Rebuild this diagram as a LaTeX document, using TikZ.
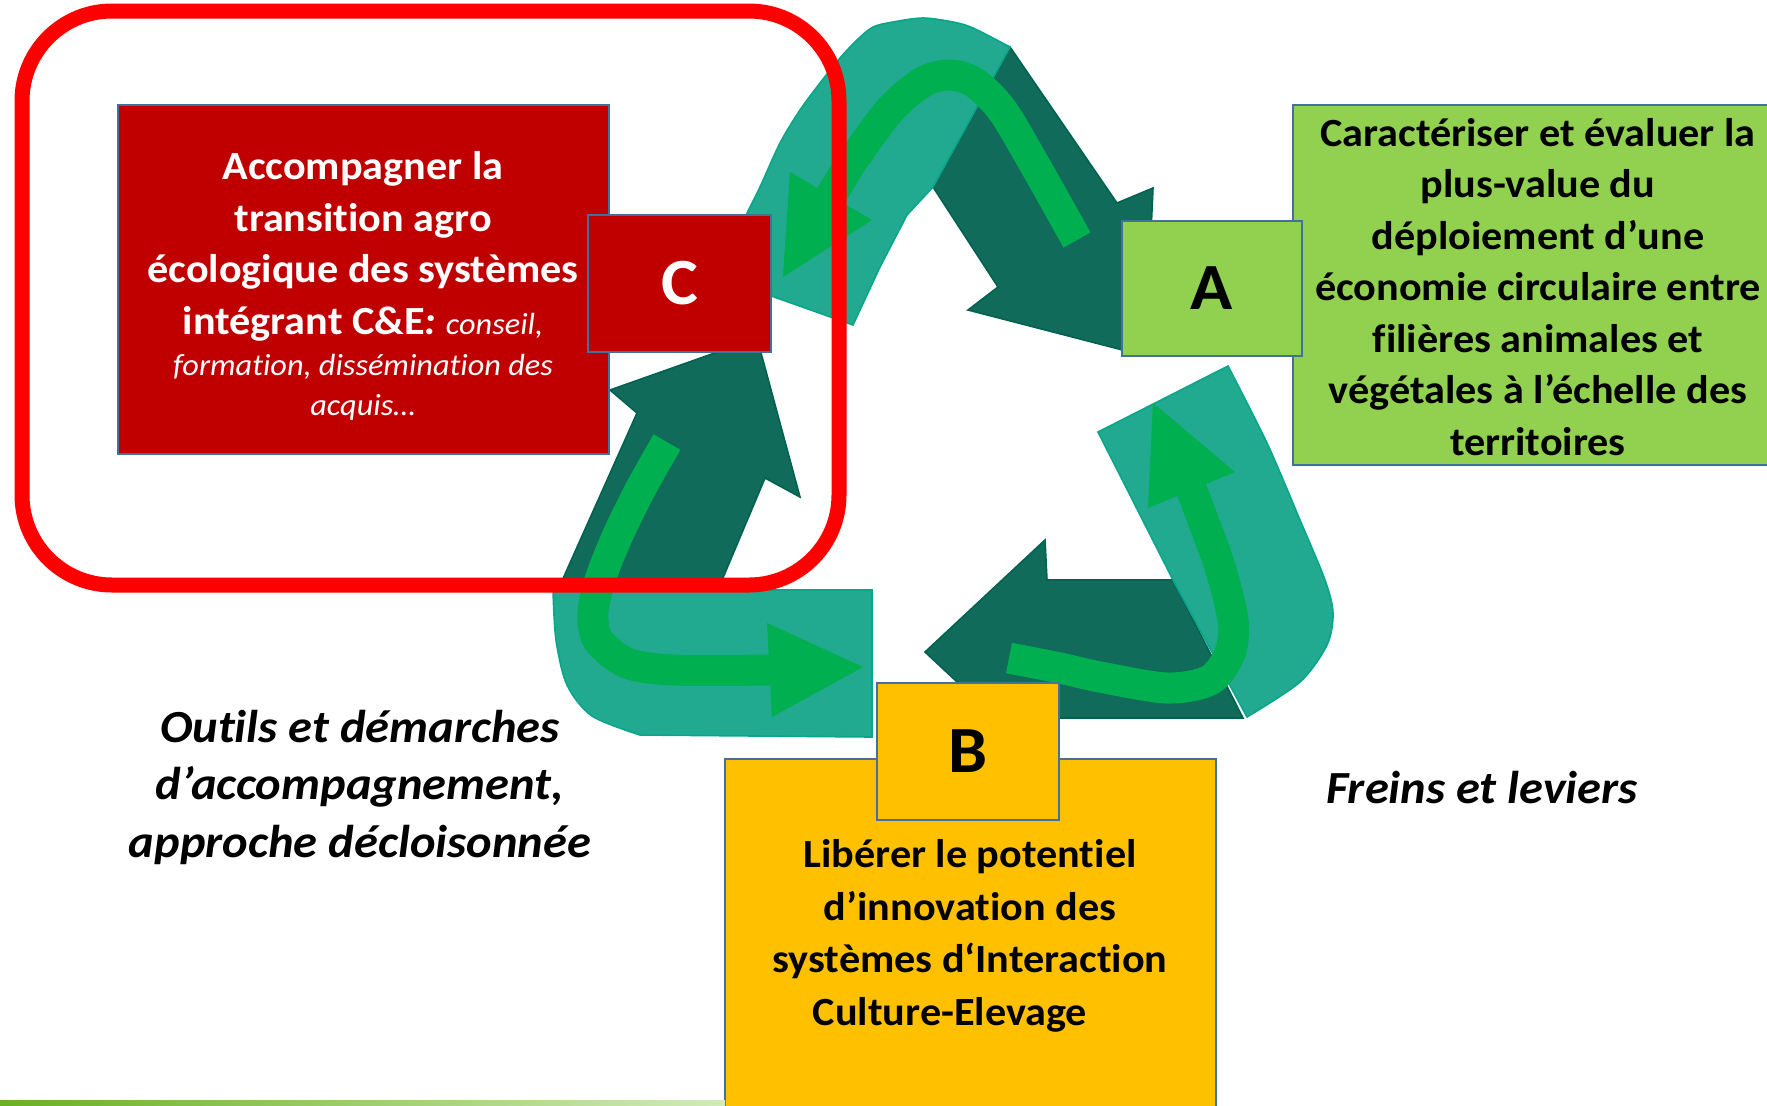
\documentclass[tikz,border=0pt]{standalone}
\usepackage{fontspec}
\setmainfont{Carlito}[FakeStretch=1.055, Ligatures=NoCommon]
\definecolor{tealLight}{HTML}{21AA8F}
\definecolor{tealLightEdge}{HTML}{08A68A}
\definecolor{tealDark}{HTML}{106B5A}
\definecolor{tealDarkEdge}{HTML}{00624F}
\definecolor{flowGreen}{HTML}{00AF50}
\definecolor{frameRed}{HTML}{FF0000}
\definecolor{boxRed}{HTML}{C00000}
\definecolor{boxGreen}{HTML}{92D050}
\definecolor{boxYellow}{HTML}{FFC000}
\definecolor{boxEdge}{HTML}{41719C}
\definecolor{ruleGreen}{HTML}{6AB023}
\definecolor{ruleLight}{HTML}{D2EBB8}
\newcommand{\remark}[1]{{\mdseries\itshape\fontsize{15.3pt}{25.75pt}\selectfont #1}}
\begin{document}
\begin{tikzpicture}[x=0.5pt, y=-0.5pt,
    lightband/.style={fill=tealLight, draw=tealLightEdge, line width=0.8pt},
    darkband/.style={fill=tealDark, draw=tealDarkEdge, line width=0.8pt},
    flow/.style={draw=flowGreen, line width=15.5pt},
    tile/.style={draw=boxEdge, line width=1.2pt},
    letterbox/.style={tile, inner sep=0pt, font=\fontsize{33pt}{36pt}\selectfont\bfseries},
    bodytext/.style={align=center, inner sep=0pt, font=\fontsize{20pt}{25.75pt}\selectfont\bfseries},
    sidetext/.style={align=center, inner sep=0pt, font=\fontsize{23pt}{28.75pt}\selectfont\bfseries\itshape}]
    \useasboundingbox (0,0) rectangle (1767,1105);
    % recycling loop, dark halves
    \filldraw[darkband] (1010,47) -- (1117,203) -- (1153,188) -- (1148,300) -- (1138,354) -- (968,310) -- (998,287) -- (933,187) -- cycle;
    \filldraw[darkband] (557,592) -- (637,413) -- (610,390) -- (757,338) -- (800,497) -- (765,478) -- (717,592) -- cycle;
    \filldraw[darkband] (1173,580) -- (1047,580) -- (1045,540) -- (925,652) -- (1000,722) -- (1045,758) -- (1050,718) -- (1243,718) -- cycle;
    % light halves
    \filldraw[lightband] (740,235) -- plot[smooth] coordinates {(747,213) (760,187) (780,143) (800,110) (820,83) (840,58) (857,40) (873,27) (893,22) (923,18) (953,22) (973,28) (1010,47)} -- (933,187) -- (907,215) -- (880,267) -- (853,325) -- (760,292) -- cycle;
    \filldraw[lightband] (553,590) -- (872,590) -- (872,737) -- plot[smooth] coordinates {(640,735) (592,716) (567,685) (556,640) (553,590)} -- cycle;
    \filldraw[lightband] (1098,432) -- plot[smooth] coordinates {(1228,366) (1267,443) (1300,520) (1325,580) (1333,613) (1327,645) (1300,682) (1247,717)} -- (1173,580) -- cycle;
    % green flow arrows
    \draw[flow] plot[smooth] coordinates {(1077,240) (1032,160) (1002,110) (975,83) (950,75) (923,82) (890,110) (853,160) (831,196)};
    \fill[flowGreen] (790,172) -- (872,220) -- (783,277) -- cycle;
    \draw[flow] plot[smooth] coordinates {(667,442) (640,490) (617,537) (600,580) (593,613) (598,640) (627,663) (673,670) (770,670)};
    \fill[flowGreen] (767,623) -- (863,667) -- (772,717) -- cycle;
    \draw[flow] plot[smooth] coordinates {(1009,658) (1060,668) (1100,677) (1167,688) (1210,680) (1230,653) (1233,620) (1220,567) (1203,520) (1186,475)};
    \fill[flowGreen] (1148,508) -- (1235,472) -- (1153,403) -- cycle;
    % red frame
    \draw[frameRed, line width=7.5pt, rounded corners=45pt] (22,11) rectangle (839,585);
    % boxes
    \filldraw[tile, fill=boxRed] (118,105) rectangle (609,454);
    \node[letterbox, fill=boxRed, text=white, minimum width=91.5pt, minimum height=68.5pt] (cbox) at (679.5,283.5) {C};
    \filldraw[tile, fill=boxGreen] (1293,105) rectangle (1780,465);
    \node[letterbox, fill=boxGreen, minimum width=90pt, minimum height=67.5pt] (abox) at (1212,288.5) {A};
    \filldraw[tile, fill=boxYellow] (725,759) rectangle (1216,1120);
    \node[letterbox, fill=boxYellow, minimum width=91pt, minimum height=68.5pt] (bbox) at (968,751.5) {B};
    % texts
    \node[bodytext, text=white] (ctext) at (363,286) {Accompagner la\\transition agro\\écologique des systèmes\\intégrant C\&E\textit{:} \remark{conseil,}\\[-5pt]\remark{formation, dissémination des}\\[-6pt]\remark{acquis…}};
    \node[bodytext] (atext) at (1538,287) {Caractériser et évaluer la\\plus-value du\\déploiement d’une\\économie circulaire entre\\filières animales et\\végétales à l’échelle des\\territoires};
    \node[bodytext, font=\fontsize{20pt}{26.3pt}\selectfont\bfseries] (btext) at (970,936) {Libérer le potentiel\\d’innovation des\\systèmes d‘Interaction\\Culture-Elevage\hspace*{20pt}};
    \node[sidetext] (tools) at (360,787) {Outils et démarches\\d’accompagnement,\\approche décloisonnée};
    \node[sidetext] (levers) at (1482,788) {Freins et leviers};
    % bottom rule
    \fill[left color=ruleGreen, right color=ruleLight] (0,1100) rectangle (725,1105);
\end{tikzpicture}
\end{document}
